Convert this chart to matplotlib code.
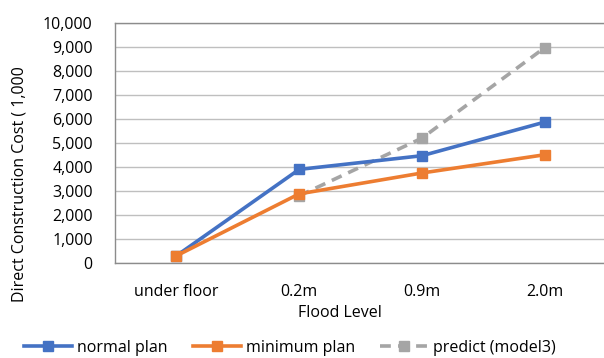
import matplotlib
matplotlib.use("Agg")
import matplotlib.pyplot as plt
from matplotlib.ticker import FuncFormatter, MultipleLocator

categories = ["under floor", "0.2m", "0.9m", "2.0m"]
normal_plan = [300, 3900, 4470, 5870]
minimum_plan = [300, 2880, 3750, 4510]
predict_cats = ["0.2m", "0.9m", "2.0m"]
predict_model3 = [2800, 5200, 8970]

plt.rcParams['font.family'] = ['Open Sans', 'DejaVu Sans']

W, H = 604, 358
fig = plt.figure(figsize=(W / 100, H / 100), dpi=100)
ax = fig.add_axes([115 / W, 1 - 263 / H, (606 - 115) / W, (263 - 23) / H])

x = list(range(len(categories)))
px = [categories.index(c) for c in predict_cats]

ax.plot(x, normal_plan, color="#4472C4", lw=2.6, marker="s", ms=7, label="normal plan", zorder=3)
ax.plot(x, minimum_plan, color="#ED7D31", lw=2.6, marker="s", ms=7, label="minimum plan", zorder=3)
ax.plot(px, predict_model3, color="#A5A5A5", lw=2.6, ls=(0, (3, 2)), marker="s", ms=7,
        label="predict (model3)", zorder=2)

ax.set_xlim(-0.5, len(categories) - 0.5)
ax.set_ylim(0, 10000)
ax.yaxis.set_major_locator(MultipleLocator(1000))
ax.yaxis.set_major_formatter(FuncFormatter(lambda v, p: f"{int(v):,}"))
ax.set_xticks(x)
ax.set_xticklabels(categories)
ax.tick_params(axis="both", length=0, labelsize=11.5, colors="#000000")
ax.tick_params(axis="x", pad=15)
ax.tick_params(axis="y", pad=16)
ax.grid(axis="y", color="#BFBFBF", lw=1)
ax.set_axisbelow(True)
for s in ["top", "left", "bottom"]:
    ax.spines[s].set_color("#8C8C8C")
    ax.spines[s].set_linewidth(1)
ax.spines["right"].set_visible(False)

fig.text(340 / W, 1 - 313 / H, "Flood Level", ha="center", va="center", fontsize=11.5)
fig.text(20 / W, 1 - 184 / H, "Direct Construction Cost ( 1,000", rotation=90,
         ha="center", va="center", fontsize=11.5)

fig.legend(loc="center", bbox_to_anchor=(290 / W, 1 - 348 / H), ncol=3, frameon=False,
           fontsize=11.5, handlelength=3.0, handletextpad=0.3, columnspacing=1.6,
           borderaxespad=0, borderpad=0)

fig.savefig("out.png", dpi=100)
